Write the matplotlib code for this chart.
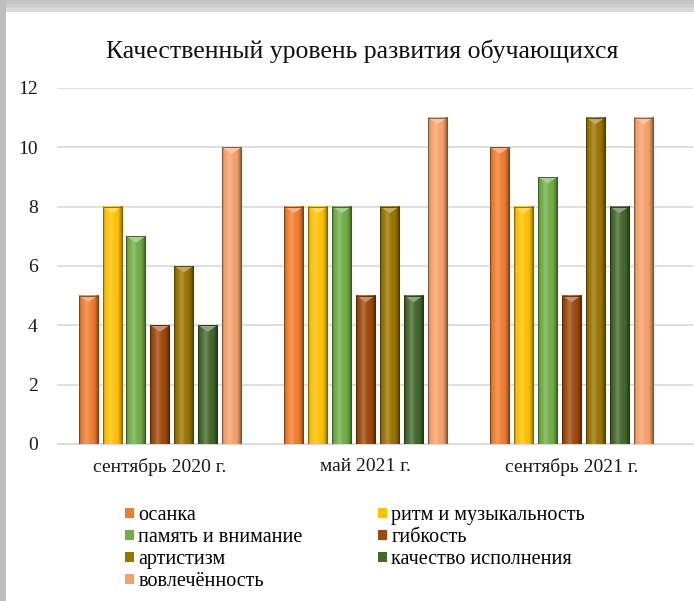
import numpy as np
import matplotlib.pyplot as plt
from matplotlib.patches import Rectangle, Polygon
from matplotlib.colors import to_rgb

plt.rcParams['font.family'] = ['Liberation Serif', 'DejaVu Serif']

categories = ['сентябрь 2020 г.', 'май 2021 г.', 'сентябрь 2021 г.']
series = ['осанка', 'ритм и музыкальность', 'память и внимание', 'гибкость',
          'артистизм', 'качество исполнения', 'вовлечённость']
values = [
    [5, 8, 10],     # осанка
    [8, 8, 8],      # ритм и музыкальность
    [7, 8, 9],      # память и внимание
    [4, 5, 5],      # гибкость
    [6, 8, 11],     # артистизм
    [4, 5, 8],      # качество исполнения
    [10, 11, 11],   # вовлечённость
]
colors = ['#ED7D31', '#FFC000', '#70AD47', '#9E480E', '#997300', '#43682B', '#F4A06A']

fig = plt.figure(figsize=(6.94, 6.01), dpi=100, facecolor='#bdbdbd')
# white panel inside the grey frame
fig.patches.append(Rectangle((6 / 694, 0), 1, 589 / 601, transform=fig.transFigure,
                             facecolor='white', edgecolor='none', zorder=-5))
# soft top border
for i, c in enumerate(['#c4c4c4', '#cfcfcf', '#dadada']):
    fig.patches.append(Rectangle((6 / 694, 589 / 601), 1, (12 - i * 4) / 601,
                                 transform=fig.transFigure, facecolor=c,
                                 edgecolor='none', zorder=-4))

ax = fig.add_axes([57 / 694, 157 / 601, 636 / 694, 356 / 601])
ax.set_facecolor('none')

x = np.arange(len(categories))
step = 0.1163
width = 0.0925

# horizontal shading profile for the bevelled look
t = np.linspace(0, 1, 40)
shade = (1.0 + 0.22 * np.exp(-((t - 0.38) / 0.14) ** 2)
         - 0.25 * np.clip((0.12 - t) / 0.12, 0, 1)
         - 0.5 * np.clip((t - 0.72) / 0.28, 0, 1) ** 1.5)


def shaded(col):
    rgb = np.array(to_rgb(col))
    out = []
    for s in shade:
        if s >= 1:
            out.append(rgb + (1 - rgb) * (s - 1))
        else:
            out.append(rgb * s)
    return np.clip(np.array(out), 0, 1)[None, :, :]


handles = []
for i, (name, vals, col) in enumerate(zip(series, values, colors)):
    bars = ax.bar(x + (i - 3) * step, vals, width, color=col, label=name,
                  edgecolor='none', zorder=2)
    handles.append(bars)
    img = shaded(col)
    for b in bars:
        x0, w, h = b.get_x(), b.get_width(), b.get_height()
        ax.imshow(img, extent=(x0, x0 + w, 0, h), aspect='auto',
                  interpolation='bilinear', zorder=3)
        rgb = np.array(to_rgb(col))
        light = rgb + (1 - rgb) * 0.4
        ax.add_patch(Polygon([(x0, h), (x0 + w, h), (x0 + w / 2, h - 0.22)],
                             closed=True, facecolor=light, edgecolor='none', zorder=4))
        ax.add_patch(Rectangle((x0, 0), w, h, facecolor='none',
                               edgecolor=rgb * 0.5, lw=0.6, zorder=5))

ax.set_xlim(-0.5, 2.59)
ax.set_ylim(0, 12)
ax.set_yticks(range(0, 13, 2))
ax.set_xticks(x)
ax.set_xticklabels(categories)
ax.tick_params(axis='both', length=0, labelsize=14, colors='#1a1a1a')
ax.tick_params(axis='y', pad=14)
ax.tick_params(axis='x', pad=10)
for s in ['top', 'right', 'left']:
    ax.spines[s].set_visible(False)
ax.spines['bottom'].set_color('#d9d9d9')
ax.yaxis.grid(True, color='#d9d9d9', lw=1.2, zorder=0)
ax.set_axisbelow(True)

fig.text(362 / 694, 550 / 601, 'Качественный уровень развития обучающихся',
         ha='center', va='center', fontsize=18.5, color='#111111')

# legend reads row by row like the original: reorder for column filling
order = [0, 2, 4, 6, 1, 3, 5]
fig.legend([handles[k] for k in order], [series[k] for k in order],
           loc='upper left', bbox_to_anchor=(107 / 694, 113 / 601), ncol=2,
           frameon=False, fontsize=14.5, handlelength=0.45, handleheight=0.45,
           handletextpad=0.2, columnspacing=3.75, labelspacing=0.15)

fig.savefig('out.png', dpi=100, facecolor=fig.get_facecolor())
